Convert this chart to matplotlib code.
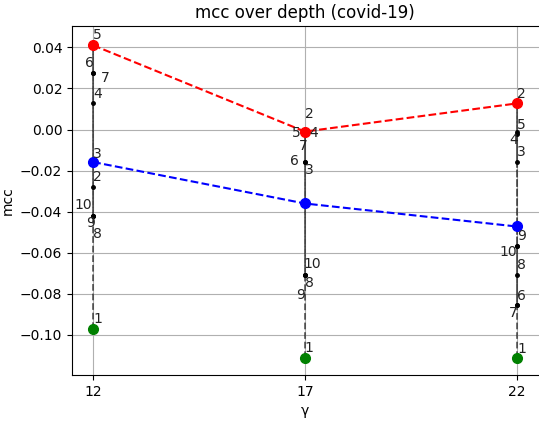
import numpy as np
import matplotlib
matplotlib.use('Agg')
import matplotlib.pyplot as plt

# mcc of each run (run ids 1..10) at every depth gamma
depths = [12, 17, 22]
run_ids = [1, 2, 3, 4, 5, 6, 7, 8, 9, 10]
mcc_12 = [-0.097, -0.028, -0.0156, 0.0127, 0.041, 0.0273, 0.0273, -0.042, -0.042, -0.042]
mcc_17 = [-0.111, -0.001, -0.016, -0.001, -0.001, -0.016, -0.002, -0.0707, -0.0707, -0.0707]
mcc_22 = [-0.111, 0.0127, -0.016, -0.002, -0.001, -0.0854, -0.0854, -0.0707, -0.0566, -0.0566]
all_mcc = [mcc_12, mcc_17, mcc_22]

# label offsets in pixels (style only)
offs = [
    [(5, 10), (4, 10), (4, 8), (5, 9), (4, 10), (-4, 10), (12, -5), (4, -18), (-3, -7), (-10, 11)],
    [(4, 10), (4, 18), (4, -8), (9, -1), (-9, -1), (-10, 1), (-2, -12), (5, -8), (-4, -20), (7, 11)],
    [(5, 9), (5, 9), (5, 10), (-3, -6), (5, 7), (5, 9), (-3, -8), (5, 10), (5, 10), (-8, -6)],
]

fig = plt.figure(figsize=(5.39, 4.21), dpi=100)
ax = fig.add_axes([72/539, 46/421, 474/539, 349/421])

maxs, means, mins = [], [], []
for d, vals, off in zip(depths, all_mcc, offs):
    v = np.array(vals)
    x = np.full(len(v), d)
    ax.plot(x, v, '--', color='k', alpha=0.6, lw=1.3, zorder=2)
    ax.plot(x, v, 'o', color='k', ms=2.5, zorder=3)
    for rid, val, (dx, dy) in zip(run_ids, v, off):
        ax.annotate(str(rid), (d, val), xytext=(dx, dy), textcoords='offset pixels',
                    ha='center', va='center', fontsize=10, color='#222222', zorder=5)
    maxs.append(v.max())
    means.append(v.mean())
    mins.append(v.min())

ax.plot(depths, maxs, 'r--', marker='o', ms=7, zorder=4)
ax.plot(depths, means, 'b--', marker='o', ms=7, zorder=4)
ax.plot(depths, mins, 'go', ms=7, zorder=4)

ax.set_xlim(11.5, 11.5 + 474 / 42.35)
ax.set_ylim(-0.1195, 0.0504)
ax.set_xticks(depths)
ax.grid(True)
ax.set_axisbelow(True)
ax.set_title('mcc over depth (covid-19)', x=(539 / 2 - 72) / 474 * 0 + 0.5 * 466 / 474)
ax.set_xlabel('γ', x=0.5 * 466 / 474)
ax.set_ylabel('mcc')

fig.savefig('out.png', dpi=100)
